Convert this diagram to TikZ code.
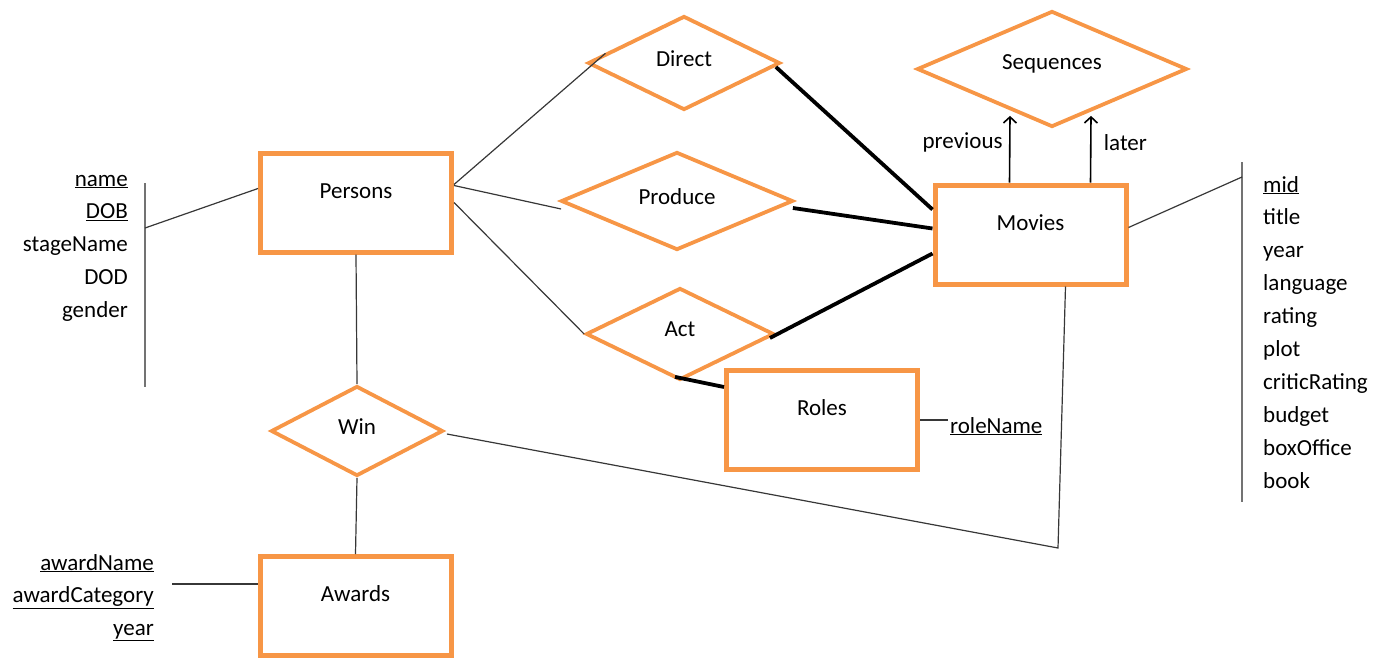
\documentclass[tikz,border=0pt]{standalone}
\usepackage{fontspec}
\setmainfont{Carlito}
\usetikzlibrary{positioning, calc, arrows.meta, shapes.geometric}
\definecolor{erorange}{RGB}{247,150,70}
\definecolor{linkgray}{RGB}{55,55,55}

\begin{document}
\begin{tikzpicture}[x=1pt, y=-1pt, font=\fontsize{23}{28}\selectfont,
  >={Straight Barb[length=6pt, width=13pt]},
  entity/.style={draw=erorange, line width=5pt, minimum width=191pt, inner sep=0pt, text height=45pt, text depth=54pt},
  relship/.style={diamond, aspect=2, draw=erorange, line width=3.8pt, inner sep=0pt, text depth=9pt},
  attr/.style={inner sep=2pt},
  thinlink/.style={linkgray, line width=1.2pt},
  thicklink/.style={black, line width=3.8pt},
  arrowlink/.style={black, line width=1.6pt},
  attrbar/.style={black!55, line width=1.2pt}]

% pixel grid of the sheet: x 0..1373 to the right, y 0..659 downwards
\useasboundingbox (0,0) rectangle (1373,659);

%% ── entity sets ──────────────────────────────────────────────────
\node[entity] (persons) at (356,202.5) {Persons};
\node[entity] (movies)  at (1030.5,234.5) {Movies};
\node[entity] (roles)   at (822,420) {Roles};
\node[entity] (awards)  at (355.5,606) {Awards};

%% ── relationships ────────────────────────────────────────────────
\node[relship, minimum width=192pt, minimum height=94pt]  (direct)    at (684,63)  {Direct};
\node[relship, minimum width=232pt, minimum height=98pt]  (produce)   at (677,201) {Produce};
\node[relship, minimum width=188pt, minimum height=92pt]  (act)       at (680,334) {Act};
\node[relship, minimum width=270pt, minimum height=116pt, text depth=14pt] (sequences) at (1052,69) {Sequences};
\node[relship, minimum width=172pt, minimum height=90pt]  (win)       at (357,431) {Win};

%% ── Persons side (thin) ──────────────────────────────────────────
\draw[thinlink] ($(persons.east)+(0,-18)$) -- (direct.173);
\draw[thinlink] ($(persons.east)+(0,-17)$) -- ($(produce.west)+(2,8)$);
\draw[thinlink] (persons.east) -- (act.west);
\draw[thinlink] (persons.south) -- (win.north);
\draw[thinlink] (win.south) -- (awards.north);

%% ── Movies side (thick) ──────────────────────────────────────────
\draw[thicklink] ($(direct.east)+(-6,4)$) -- ($(movies.west)+(0,-25)$);
\draw[thicklink] ($(produce.east)+(-2,7)$) -- ($(movies.west)+(0,-6)$);
\draw[thicklink] ($(act.east)+(-6,4)$) -- ($(movies.west)+(0,19)$);
\draw[thicklink] ($(act.south)+(-5,-5)$) -- ($(roles.west)+(0,-33)$);

%% ── Win -- Movies ────────────────────────────────────────────────
\coordinate (winbend) at (1058,548);
\draw[thinlink] ($(win.east)+(2,3)$) -- (winbend) -- ($(movies.south)+(35,0)$);

%% ── Sequences roles ──────────────────────────────────────────────
\draw[arrowlink, ->] ($(movies.north)+(-21,0)$) -- ($(sequences.south)+(-42,-13)$)
  node[pos=0.6, left=3pt] (prevlbl) {previous};
\draw[arrowlink, ->] ($(movies.north)+(60,0)$) -- ($(sequences.south)+(39,-13)$)
  node[pos=0.6, right=9pt] (laterlbl) {later};

%% ── attributes of Persons ────────────────────────────────────────
\coordinate (pbartop) at (145,183);
\coordinate (pbarbot) at (145,387);
\coordinate (pbarhit) at (145,228);
\draw[attrbar] (pbartop) -- (pbarbot);
\draw[thinlink] ($(persons.west)+(0,-14)$) -- (pbarhit);
\foreach \txt [count=\i] in {\underline{name}, \underline{DOB}, stageName, DOD, gender}
  \node[attr, anchor=base east] (pattr\i) at (130,{186+32.75*(\i-1)}) {\txt};

%% ── attributes of Movies ─────────────────────────────────────────
\coordinate (mbartop) at (1242,162);
\coordinate (mbarbot) at (1242,502);
\coordinate (mbarhit) at (1242,177);
\draw[attrbar] (mbartop) -- (mbarbot);
\draw[thinlink] ($(movies.east)+(0,-7)$) -- (mbarhit);
\foreach \txt [count=\i] in {\underline{mid}, title, year, language, rating, plot, criticRating, budget, boxOffice, book}
  \node[attr, anchor=base west] (mattr\i) at (1261,{192+32.9*(\i-1)}) {\txt};

%% ── attributes of Awards ─────────────────────────────────────────
\coordinate (awbarhit) at (172,584);
\draw[thinlink] ($(awards.west)+(0,-22)$) -- (awbarhit);
\foreach \txt [count=\i] in {\underline{awardName}, \underline{awardCategory}, \underline{year}}
  \node[attr, anchor=base east] (aattr\i) at (156,{570+32.5*(\i-1)}) {\txt};

%% ── attribute of Roles ───────────────────────────────────────────
\node[attr, anchor=base west] (rolename) at (948,433) {\underline{roleName}};
\draw[thinlink] (roles.east) -- (roles.east -| rolename.west);

\end{tikzpicture}
\end{document}
